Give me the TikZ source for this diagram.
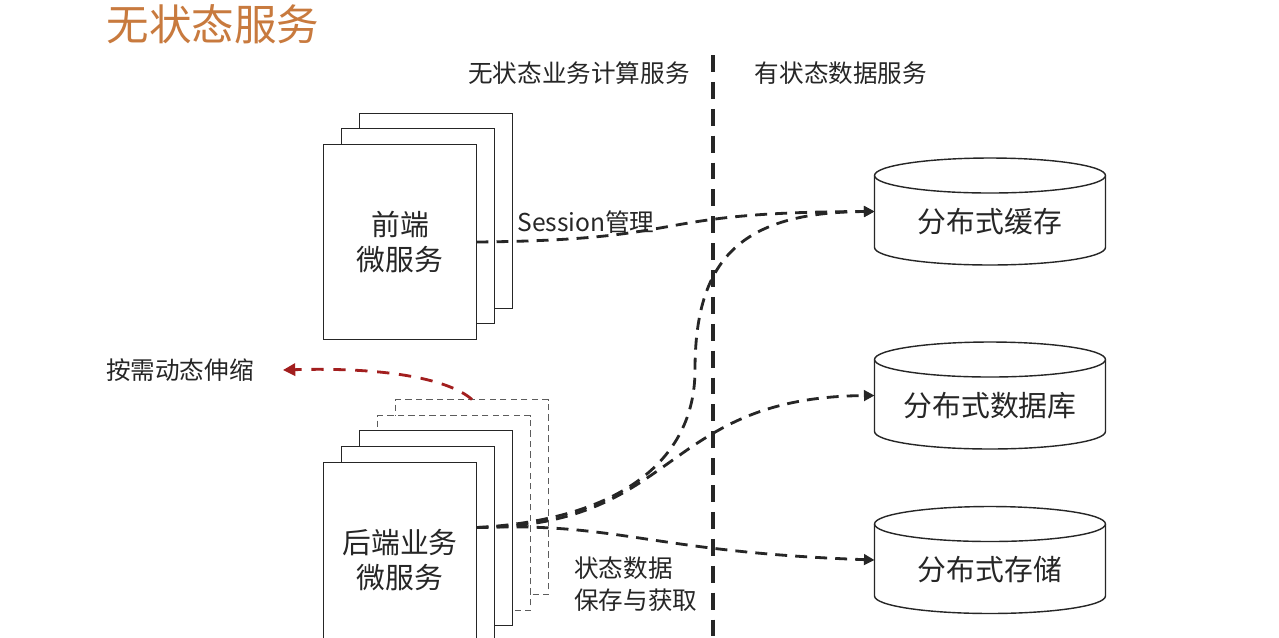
\documentclass[tikz,border=0pt]{standalone}
\usepackage{fontspec}
\setmainfont{Noto Sans CJK SC}
\usetikzlibrary{arrows.meta}
\definecolor{ink}{RGB}{38,38,38}
\definecolor{titleorange}{RGB}{200,122,62}
\definecolor{scalered}{RGB}{162,30,30}
\begin{document}
\begin{tikzpicture}[
    x=0.02cm,
    y=-0.02cm,
    svc/.style={
        rectangle,
        draw=ink,
        line width=0.8pt,
        fill=white,
        minimum width=3.06cm,
        minimum height=3.9cm,
        inner sep=0pt,
        outer sep=0pt,
        text=ink,
        font=\fontsize{16.4}{19.5}\selectfont,
        align=center
    },
    ghost/.style={
        svc,
        draw=ink!75,
        line width=0.6pt,
        dash pattern=on 3.6pt off 2.4pt
    },
    db/.style={
        rectangle,
        minimum width=4.62cm,
        minimum height=2.14cm,
        inner sep=0pt,
        outer sep=0pt,
        text=ink,
        font=\fontsize{16.4}{20}\selectfont,
        text height=0.9cm,
        text depth=0.08cm
    },
    note/.style={
        inner sep=0pt,
        text=ink,
        font=\fontsize{14}{18}\selectfont,
        align=left
    },
    flow/.style={
        draw=ink,
        line width=1.6pt,
        dash pattern=on 6.8pt off 4.6pt,
        -{Triangle[length=6pt,width=6pt]}
    },
    scaling/.style={
        draw=scalered,
        line width=1.6pt,
        dash pattern=on 7pt off 5.5pt,
        -{Triangle[length=7pt,width=7pt]}
    },
    divider/.style={
        draw=ink,
        line width=1.8pt,
        dash pattern=on 9.6pt off 5.7pt
    }
]

\path[use as bounding box] (0,0) rectangle (1279,637);
\clip (0,0) rectangle (1279,637);
\fill[white] (0,0) rectangle (1279,637);

% Title and headers
\node[text=titleorange, inner sep=0pt, font=\fontsize{24.2}{28}\selectfont] (title) at (213,24) {无状态服务};
\node[note] (left) at (579,73) {无状态业务计算服务};
\node[note] (right) at (841,73) {有状态数据服务};
\draw[divider] (713,55) -- (713,640);

% Front-end service stack
\node[svc] (fe3) at (436,211) {};
\node[svc] (fe2) at (418,226) {};
\node[svc] (fe) at (400,242) {前端\\微服务};

% Back-end service stack, scaled copies dashed
\node[ghost] (be5) at (472,497) {};
\node[ghost] (be4) at (454,513) {};
\node[svc] (be3) at (436,528) {};
\node[svc] (be2) at (418,544) {};
\node[svc] (be) at (400,560) {后端业务\\微服务};
\coordinate (fan) at ([yshift=0.65cm]be.east);

% Stateful data services
\node[db] (cache) at (990,211.5) {分布式缓存};
\node[db] (store_db) at (990,395.5) {分布式数据库};
\node[db] (store) at (990,560) {分布式存储};
\foreach \c in {cache,store_db,store}{
    \draw[ink, line width=0.8pt] ([yshift=-0.35cm]\c.north) ellipse [x radius=2.31cm, y radius=0.35cm];
    \draw[ink, line width=0.8pt] ([yshift=-0.35cm]\c.north west) -- ([yshift=0.35cm]\c.south west)
        arc [start angle=180, end angle=360, x radius=2.31cm, y radius=0.35cm] -- ([yshift=-0.35cm]\c.north east);
}

% Labels
\node[note] (session) at (586,222) {Session管理};
\node[note, anchor=west] (statelbl) at (574,584) {状态数据\\保存与获取};
\node[note, anchor=east] (scale) at (254,370) {按需动态伸缩};

% Arrows
\draw[flow] (fe.east) .. controls (700,240) and (640,212) .. (cache.west);
\draw[flow] (fan) .. controls (620,520) and (695,460) .. (695,370)
    .. controls (695,260) and (740,212) .. (cache.west);
\draw[flow] (fan) .. controls (680,527) and (660,397) .. (store_db.west);
\draw[flow] (fan) .. controls (620,522) and (650,552) .. (store.west);
\draw[scaling] (be5.north) .. controls (450,380) and (390,367) .. ([xshift=0.58cm]scale.east);

\end{tikzpicture}
\end{document}
